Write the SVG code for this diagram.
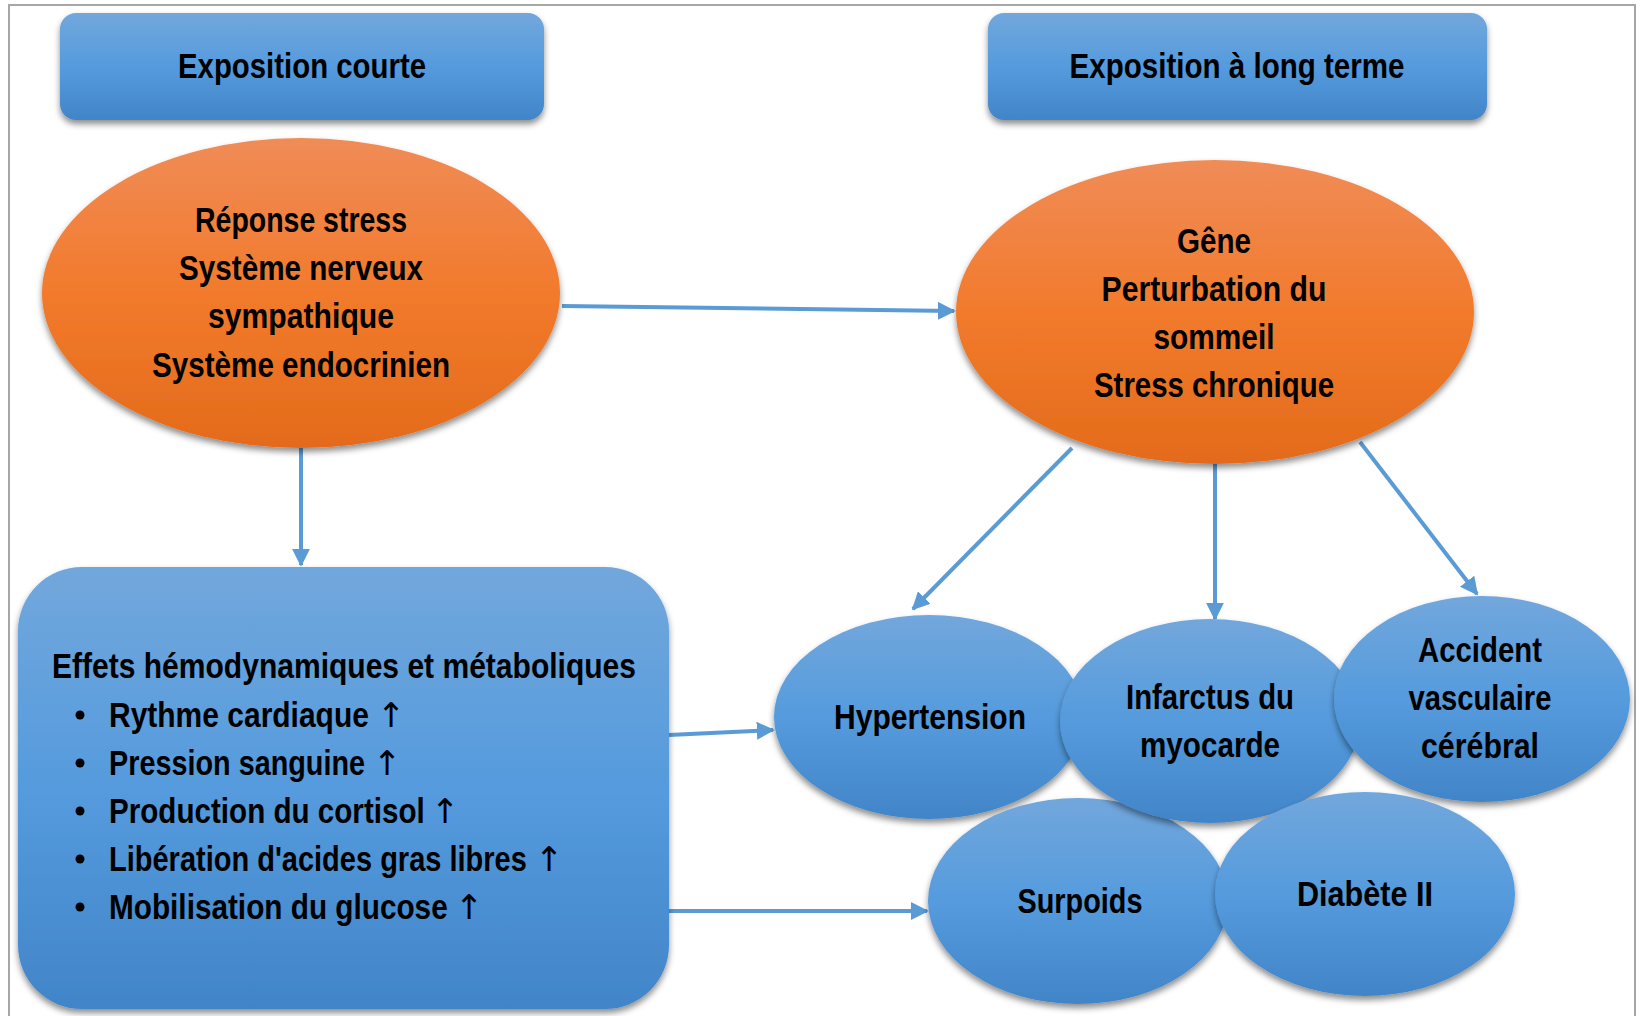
<svg xmlns="http://www.w3.org/2000/svg" width="1640" height="1016" viewBox="0 0 1640 1016">
<defs>
<linearGradient id="gBlue" x1="0" y1="0" x2="0" y2="1">
<stop offset="0" stop-color="#72A7DC"/>
<stop offset="0.5" stop-color="#559BDD"/>
<stop offset="1" stop-color="#4185C8"/>
</linearGradient>
<linearGradient id="gOrange" x1="0" y1="0" x2="0" y2="1">
<stop offset="0" stop-color="#F08C57"/>
<stop offset="0.5" stop-color="#F27A2C"/>
<stop offset="1" stop-color="#E36B1A"/>
</linearGradient>
<filter id="sh" x="-10%" y="-10%" width="120%" height="125%">
<feDropShadow dx="0" dy="4" stdDeviation="3" flood-color="#000" flood-opacity="0.45"/>
</filter>
<marker id="ah" viewBox="0 0 10 10" refX="9" refY="5" markerWidth="4.5" markerHeight="4.5" orient="auto" markerUnits="strokeWidth">
<path d="M0,0 L10,5 L0,10 z" fill="#5B9BD5"/>
</marker>
<style>
.t{font-family:"Liberation Sans",Arial,sans-serif;font-weight:bold;fill:#000;font-size:35px;text-anchor:middle}
.l{font-family:"Liberation Sans",Arial,sans-serif;font-weight:bold;fill:#000;font-size:35px}
.a{font-family:"DejaVu Sans",sans-serif;font-weight:normal;font-size:34px;fill:#000;text-anchor:middle}
.c{stroke:#5B9BD5;stroke-width:4;fill:none;marker-end:url(#ah)}
</style>
</defs>
<rect x="0" y="0" width="1640" height="1016" fill="#fff"/>
<rect x="9" y="5" width="1626" height="1020" fill="none" stroke="#A6A6A6" stroke-width="2"/>

<g id="connectors">
<line class="c" x1="562" y1="306" x2="954" y2="311"/>
<line class="c" x1="301" y1="448" x2="301" y2="565"/>
<line class="c" x1="1072" y1="448" x2="913" y2="609"/>
<line class="c" x1="1215" y1="463" x2="1215" y2="619"/>
<line class="c" x1="1360" y1="442" x2="1477" y2="594"/>
<line class="c" x1="669" y1="735" x2="773" y2="730"/>
<line class="c" x1="669" y1="911" x2="927" y2="911"/>
</g>

<g id="box-courte">
<rect x="60" y="13" width="484" height="107" rx="16" fill="url(#gBlue)" filter="url(#sh)"/>
<text class="t" x="302" y="78" textLength="248" lengthAdjust="spacingAndGlyphs">Exposition courte</text>
</g>
<g id="box-long">
<rect x="988" y="13" width="499" height="107" rx="16" fill="url(#gBlue)" filter="url(#sh)"/>
<text class="t" x="1237" y="78" textLength="335" lengthAdjust="spacingAndGlyphs">Exposition à long terme</text>
</g>

<g id="stress">
<ellipse cx="301" cy="293" rx="259" ry="155" fill="url(#gOrange)" filter="url(#sh)"/>
<text class="t" x="301" y="232" textLength="212" lengthAdjust="spacingAndGlyphs">Réponse stress</text>
<text class="t" x="301" y="280" textLength="244" lengthAdjust="spacingAndGlyphs">Système nerveux</text>
<text class="t" x="301" y="328" textLength="186" lengthAdjust="spacingAndGlyphs">sympathique</text>
<text class="t" x="301" y="377" textLength="298" lengthAdjust="spacingAndGlyphs">Système endocrinien</text>
</g>

<g id="gene">
<ellipse cx="1215" cy="312" rx="259" ry="152" fill="url(#gOrange)" filter="url(#sh)"/>
<text class="t" x="1214" y="253" textLength="74" lengthAdjust="spacingAndGlyphs">Gêne</text>
<text class="t" x="1214" y="301" textLength="225" lengthAdjust="spacingAndGlyphs">Perturbation du</text>
<text class="t" x="1214" y="349" textLength="121" lengthAdjust="spacingAndGlyphs">sommeil</text>
<text class="t" x="1214" y="397" textLength="240" lengthAdjust="spacingAndGlyphs">Stress chronique</text>
</g>

<g id="effets">
<rect x="18" y="567" width="651" height="442" rx="64" fill="url(#gBlue)" filter="url(#sh)"/>
<text class="l" x="52" y="678" textLength="584" lengthAdjust="spacingAndGlyphs">Effets hémodynamiques et métaboliques</text>
<circle cx="80" cy="715" r="4.5"/>
<circle cx="80" cy="763" r="4.5"/>
<circle cx="80" cy="811" r="4.5"/>
<circle cx="80" cy="859" r="4.5"/>
<circle cx="80" cy="907" r="4.5"/>
<text class="l" transform="translate(109,727) scale(0.857,1)">Rythme cardiaque</text>
<text class="a" x="391" y="727">↑</text>
<text class="l" transform="translate(109,775) scale(0.823,1)">Pression sanguine</text>
<text class="a" x="387" y="775">↑</text>
<text class="l" transform="translate(109,823) scale(0.846,1)">Production du cortisol</text>
<text class="a" x="445" y="823">↑</text>
<text class="l" transform="translate(109,871) scale(0.829,1)">Libération d'acides gras libres</text>
<text class="a" x="549" y="871">↑</text>
<text class="l" transform="translate(109,919) scale(0.85,1)">Mobilisation du glucose</text>
<text class="a" x="469" y="919">↑</text>
</g>

<g id="hypertension">
<ellipse cx="929" cy="717" rx="155" ry="102" fill="url(#gBlue)" filter="url(#sh)"/>
<text class="t" x="930" y="729" textLength="192" lengthAdjust="spacingAndGlyphs">Hypertension</text>
</g>
<g id="surpoids">
<ellipse cx="1078" cy="901" rx="150" ry="103" fill="url(#gBlue)" filter="url(#sh)"/>
<text class="t" x="1080" y="913" textLength="125" lengthAdjust="spacingAndGlyphs">Surpoids</text>
</g>
<g id="infarctus">
<ellipse cx="1210" cy="721" rx="150" ry="102" fill="url(#gBlue)" filter="url(#sh)"/>
<text class="t" x="1210" y="709" textLength="168" lengthAdjust="spacingAndGlyphs">Infarctus du</text>
<text class="t" x="1210" y="757" textLength="140" lengthAdjust="spacingAndGlyphs">myocarde</text>
</g>
<g id="avc">
<ellipse cx="1482" cy="699" rx="148" ry="103" fill="url(#gBlue)" filter="url(#sh)"/>
<text class="t" x="1480" y="662" textLength="124" lengthAdjust="spacingAndGlyphs">Accident</text>
<text class="t" x="1480" y="710" textLength="143" lengthAdjust="spacingAndGlyphs">vasculaire</text>
<text class="t" x="1480" y="758" textLength="118" lengthAdjust="spacingAndGlyphs">cérébral</text>
</g>
<g id="diabete">
<ellipse cx="1365" cy="894" rx="150" ry="102" fill="url(#gBlue)" filter="url(#sh)"/>
<text class="t" x="1365" y="906" textLength="136" lengthAdjust="spacingAndGlyphs">Diabète II</text>
</g>
</svg>
